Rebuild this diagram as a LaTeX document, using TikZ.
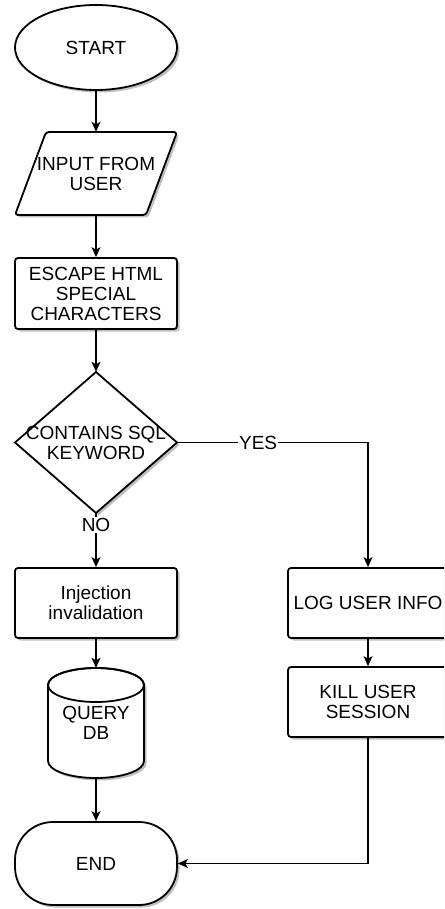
\documentclass[tikz,border=0pt]{standalone}
\usepackage{fontspec}
\setmainfont{Liberation Sans}
\usetikzlibrary{shapes.geometric,arrows.meta,shadows}
\begin{document}
\begin{tikzpicture}[x=1pt,y=-1pt,
  txt/.style={font=\fontsize{19}{20}\selectfont, align=center, inner sep=0pt},
  shad/.style={drop shadow={shadow xshift=2.5pt,shadow yshift=-2.5pt,opacity=0.25,fill=black}},
  border/.style={draw=black, line width=1.8pt, fill=white, shad},
  boxn/.style={txt, border, rounded corners=3pt, minimum width=162pt, minimum height=71pt},
  rbox/.style={txt, border, rounded corners=3pt, minimum width=160pt, minimum height=70pt},
  ghost/.style={txt, rectangle},
  conn/.style={draw=black, line width=1.2pt, -{Stealth[length=10pt,width=9pt,inset=2.5pt]}},
  lbl/.style={txt, fill=white, inner sep=1pt}]
\clip (0,0) rectangle (444,909);
\fill[white] (0,0) rectangle (444,909);

% start
\node[txt, border, ellipse, minimum width=162pt, minimum height=85pt] (start) at (96,47.5) {START};

% input parallelogram
\draw[border, rounded corners=3pt] (46,132) -- (177,132) -- (146,215) -- (15,215) -- cycle;
\node[ghost, minimum width=162pt, minimum height=83pt] (inp) at (96,173.5) {INPUT FROM\\USER};

% escape
\node[boxn] (esc) at (96,293.5) {ESCAPE HTML\\SPECIAL\\CHARACTERS};

% decision diamond
\draw[border, line join=miter] (96,372) -- (177,442.5) -- (96,513) -- (15,442.5) -- cycle;
\node[ghost, minimum width=162pt, minimum height=141pt] (dec) at (96,442.5) {CONTAINS SQL\\KEYWORD};

% injection invalidation
\node[boxn, minimum height=70pt] (inj) at (96,603) {Injection\\invalidation};

% cylinder
\path[border] (48,685) -- (48,761)
  .. controls (48,770.4) and (69.5,778) .. (96,778)
  .. controls (122.5,778) and (144,770.4) .. (144,761)
  -- (144,685)
  .. controls (144,675.6) and (122.5,668) .. (96,668)
  .. controls (69.5,668) and (48,675.6) .. (48,685) -- cycle;
\draw[line width=1.8pt] (96,685) ellipse [x radius=48, y radius=17];
\node[ghost, minimum width=96pt, minimum height=110pt] (db) at (96,723) {QUERY\\DB};

% end
\node[txt, border, rounded corners=38pt, minimum width=162pt, minimum height=83pt] (endn) at (96,863.5) {END};

% right branch
\node[rbox] (log) at (368,603) {LOG USER INFO};
\node[rbox] (kill) at (368,702) {KILL USER\\SESSION};

% connectors
\draw[conn] (start) -- (inp);
\draw[conn] (inp) -- (esc);
\draw[conn] (esc) -- (dec.north);
\draw[conn] (dec.south) -- node[lbl, pos=0.22] {NO} (inj);
\draw[conn] (dec.east) -| node[lbl, pos=0.212] {YES} (log.north);
\draw[conn] (log) -- (kill);
\draw[conn] (inj.south) -- (db.north);
\draw[conn] (db.south) -- (endn.north);
\draw[conn] (kill.south) |- (endn.east);
\end{tikzpicture}
\end{document}
